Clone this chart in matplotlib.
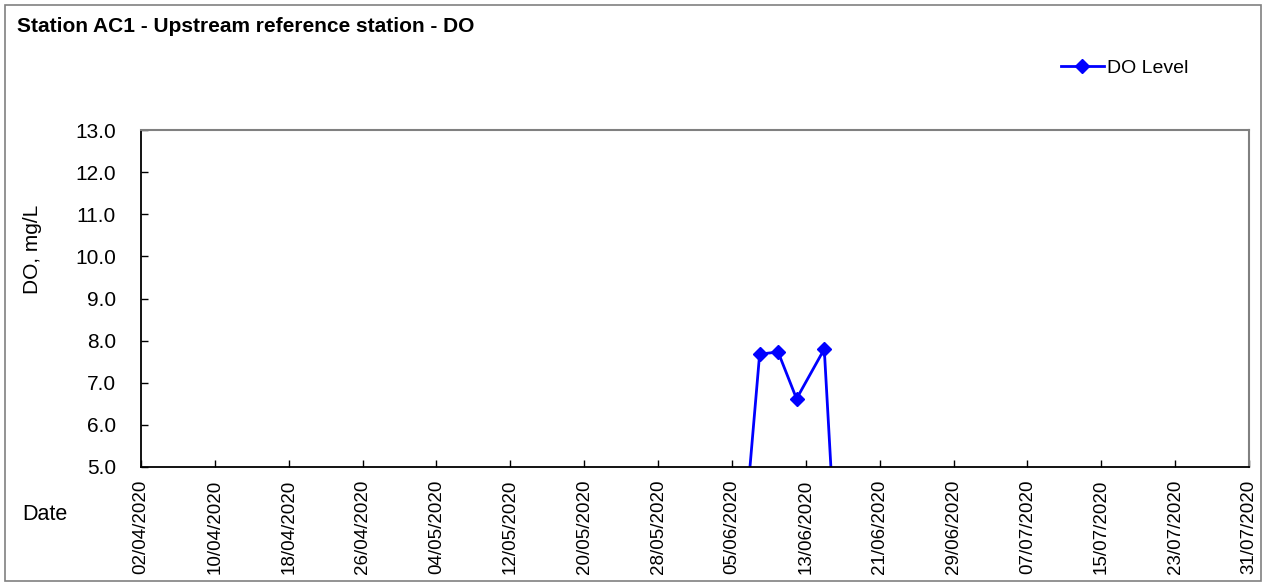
import numpy as np
import pandas as pd
import matplotlib
matplotlib.use('Agg')
import matplotlib.pyplot as plt
import matplotlib.dates as mdates
from matplotlib.patches import Rectangle

plt.rcParams['font.family'] = ['Liberation Sans', 'DejaVu Sans']

# sampled DO values (the zero readings drop below the visible axis range)
dates = ['2020-06-05', '2020-06-08', '2020-06-10', '2020-06-12', '2020-06-15', '2020-06-17']
do_level = [0.0, 7.68, 7.73, 6.62, 7.80, 0.0]

x_start = '2020-04-02'
x_end = '2020-07-31'
y_ticks = [5.0, 6.0, 7.0, 8.0, 9.0, 10.0, 11.0, 12.0, 13.0]

fig = plt.figure(figsize=(12.63, 5.83), dpi=100)
ax = fig.add_axes([141/1263, 1-467/583, 1108/1263, 337/583])

ax.plot(pd.to_datetime(dates), do_level, color='#0000FF', lw=2.0,
        marker='D', markersize=7.5, label='DO Level')

xt = pd.date_range(x_start, x_end, freq='8D')
ax.set_xlim(pd.Timestamp(x_start), pd.Timestamp(x_end))
ax.set_xticks(xt)
ax.xaxis.set_major_formatter(mdates.DateFormatter('%d/%m/%Y'))
ax.set_ylim(5.0, 13.0)
ax.set_yticks(y_ticks)
ax.set_yticklabels(['%.1f' % v for v in y_ticks])

ax.tick_params(axis='x', direction='in', length=5, width=1, labelrotation=90,
               labelsize=13.5, pad=9)
ax.tick_params(axis='y', direction='in', length=5, width=1, labelsize=15, pad=18)

for s in ['top', 'right']:
    ax.spines[s].set_color('#808080')
    ax.spines[s].set_linewidth(1.5)
for s in ['left', 'bottom']:
    ax.spines[s].set_color('black')
    ax.spines[s].set_linewidth(1.3)

fig.text(32/1263, 1-249/583, 'DO, mg/L', rotation=90, fontsize=15,
         ha='center', va='center')
fig.text(22/1263, 1-515/583, 'Date', fontsize=15.5, ha='left', va='center')
fig.text(17/1263, 1-26/583, 'Station AC1 - Upstream reference station - DO',
         fontsize=15, fontweight='bold', ha='left', va='center')

leg = ax.legend(loc='center left', bbox_to_anchor=(1061/1263, 1-68/583),
                bbox_transform=fig.transFigure, frameon=False, fontsize=14,
                handlelength=2.2, handletextpad=0.15, borderpad=0,
                borderaxespad=0)

fig.patches.append(Rectangle((5/1263, 2/583), 1256/1263, 576/583,
                             transform=fig.transFigure, fill=False,
                             edgecolor='#808080', lw=1.2))

fig.savefig('out.png', dpi=100)
